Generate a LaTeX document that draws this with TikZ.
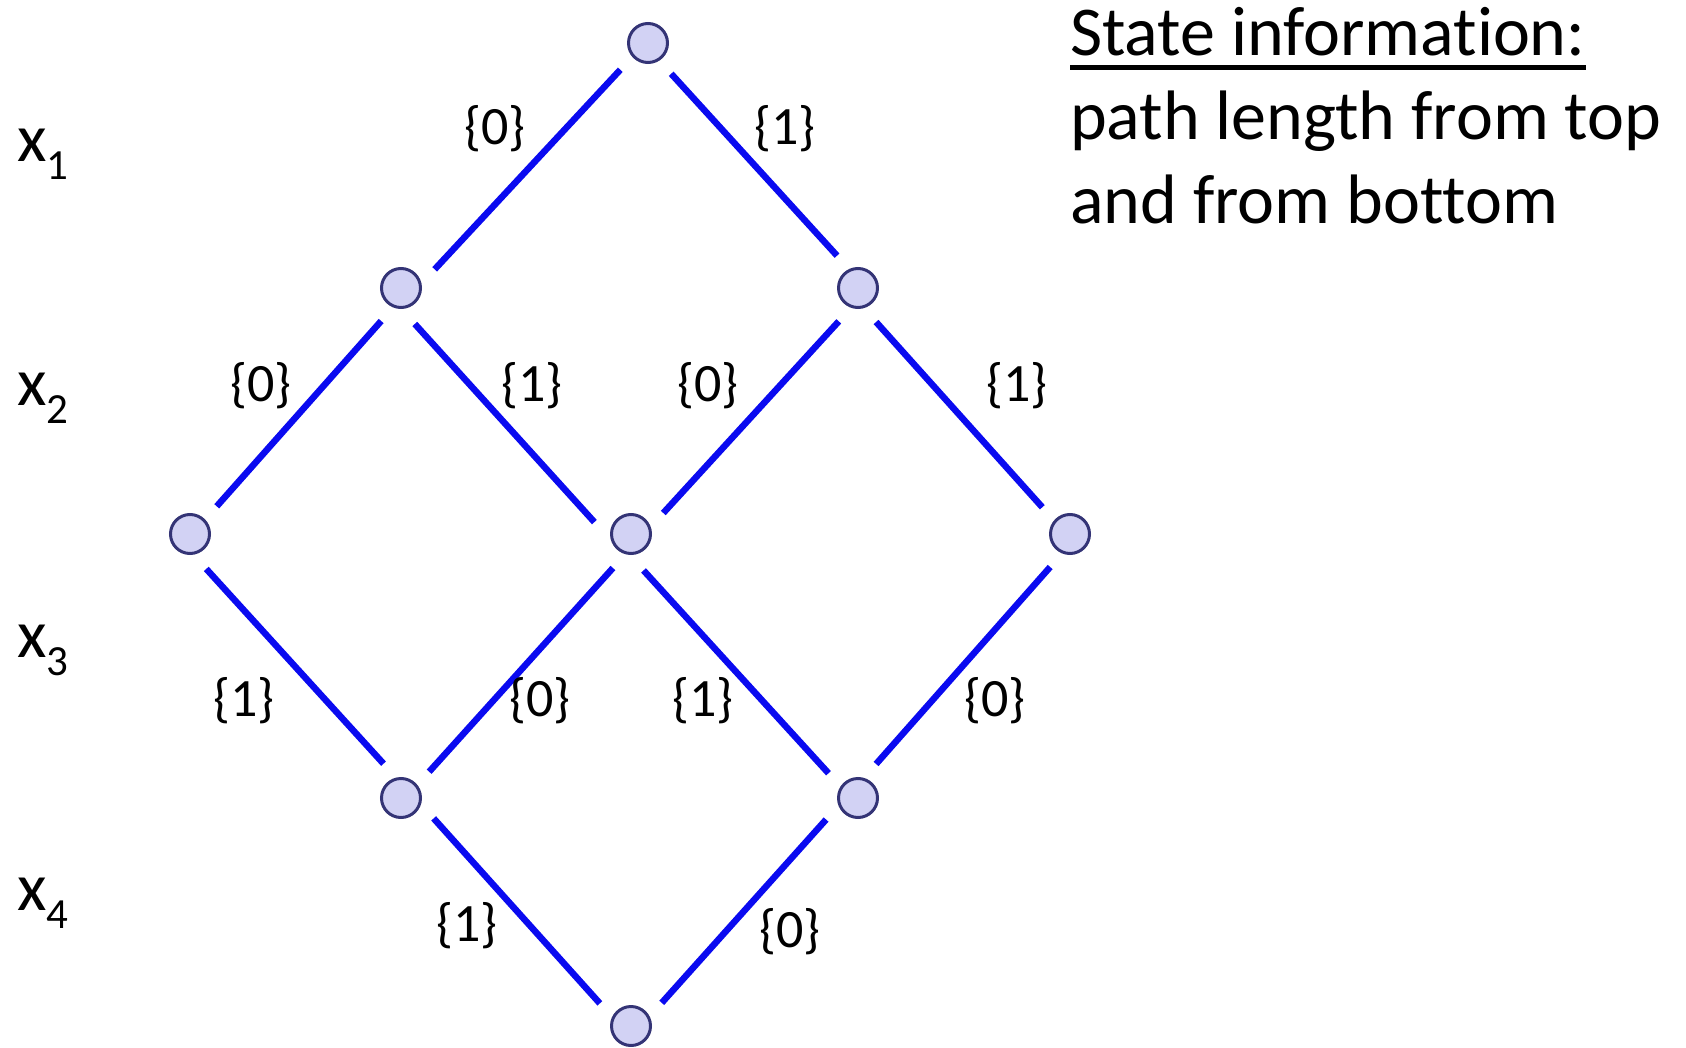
\documentclass[tikz,border=0pt]{standalone}
\usepackage{fontspec}
\setmainfont{Carlito}[Ligatures=NoCommon]
\usetikzlibrary{positioning}
\definecolor{latnode}{RGB}{210,210,244}
\definecolor{latedge}{RGB}{52,52,118}
\definecolor{latlink}{RGB}{10,10,240}
\newcommand\infofont{\fontsize{70}{84}\selectfont}
\newcommand\varfont{\fontsize{68}{80}\selectfont}
\newcommand\labfont{\fontsize{54}{60}\selectfont}
\newcommand\xsub[1]{\raisebox{-18pt}{\fontsize{43}{50}\selectfont #1}}
\newcommand\uline[1]{\setbox0\hbox{#1}\rlap{\rule[-14pt]{\wd0}{4.5pt}}\box0}
\tikzset{
  lnode/.style={circle,draw=latedge,fill=latnode,line width=3pt,
                minimum size=39pt,inner sep=0pt,outer sep=19pt},
  link/.style={draw=latlink,line width=6.5pt},
  elabel/.style={font=\labfont,inner sep=0pt},
  vlabel/.style={font=\varfont,inner sep=0pt,anchor=base west},
  info/.style={font=\infofont,inner sep=0pt,anchor=base west,align=left},
}
\begin{document}
\begin{tikzpicture}[x=1pt,y=-1pt]
\useasboundingbox (0,0) rectangle (1686,1048);
% --- lattice states ---
\node[lnode] (T) at (648,43) {};
\node[lnode] (L2a) at (401,288) {};
\node[lnode] (L2b) at (858,288) {};
\node[lnode] (L3a) at (190,534) {};
\node[lnode] (L3b) at (631,534) {};
\node[lnode] (L3c) at (1070,534) {};
\node[lnode] (L4a) at (401,798) {};
\node[lnode] (L4b) at (858,798) {};
\node[lnode] (B) at (631,1026) {};
% --- transitions ---
\draw[link] (T.224) -- (L2a.29);
\draw[link] (T.307) -- (L2b.123);
\draw[link] (L2a.239) -- (L3a.46);
\draw[link] (L2a.291) -- (L3b.162);
\draw[link] (L2b.240) -- (L3b.33);
\draw[link] (L2b.298) -- (L3c.136);
\draw[link] (L3a.295) -- (L4a.117);
\draw[link] (L3b.242) -- (L4a.43);
\draw[link] (L3b.289) -- (L4b.140);
\draw[link] (L3c.239) -- (L4b.62);
\draw[link] (L4a.328) -- (B.144);
\draw[link] (L4b.214) -- (B.37);
% --- edge values ---
\node[elabel] (e1) at (495,129) {\{0\}};
\node[elabel] (e2) at (785,129) {\{1\}};
\node[elabel] (e3) at (261,386) {\{0\}};
\node[elabel] (e4) at (532,386) {\{1\}};
\node[elabel] (e5) at (708,386) {\{0\}};
\node[elabel] (e6) at (1017,386) {\{1\}};
\node[elabel] (e7) at (244,701) {\{1\}};
\node[elabel] (e8) at (540,701) {\{0\}};
\node[elabel] (e9) at (703,701) {\{1\}};
\node[elabel] (e10) at (995,701) {\{0\}};
\node[elabel] (e11) at (467,926) {\{1\}};
\node[elabel] (e12) at (790,932) {\{0\}};
% --- variables ---
\node[vlabel] (x1) at (17,162) {x\xsub{1}};
\node[vlabel] (x2) at (17,405) {x\xsub{2}};
\node[vlabel] (x3) at (17,657) {x\xsub{3}};
\node[vlabel] (x4) at (17,910) {x\xsub{4}};
% --- note (base = last line) ---
\node[info] (info) at (1070,224)
 {\uline{State information:}\\path length from top\\and from bottom};
\end{tikzpicture}
\end{document}
